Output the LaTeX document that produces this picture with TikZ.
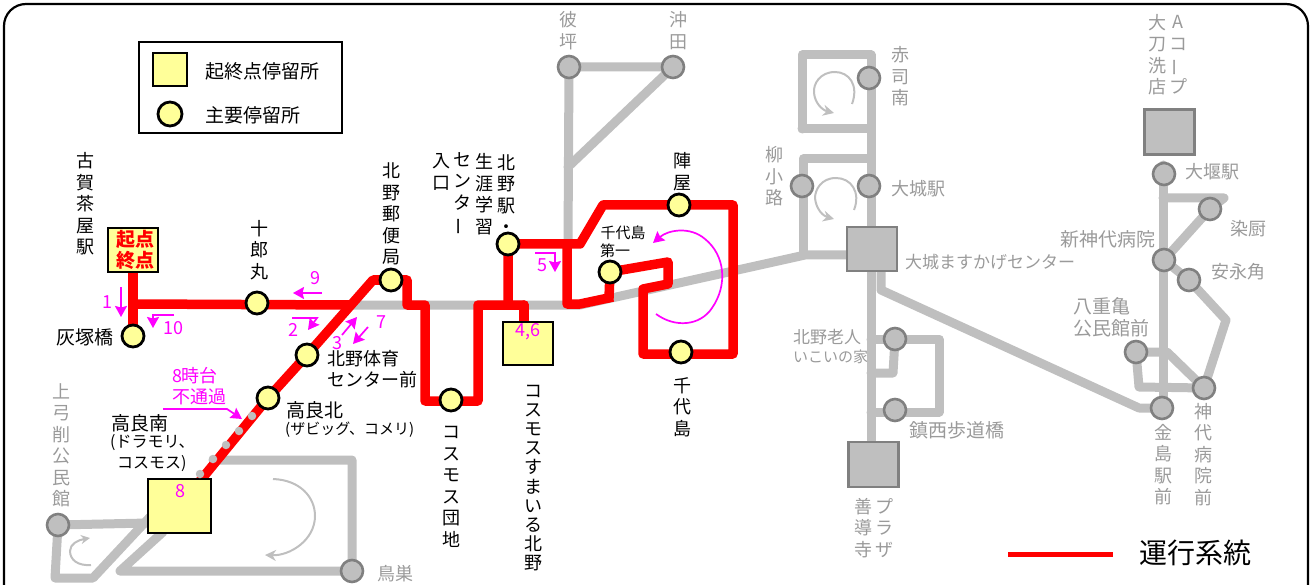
\documentclass[tikz,border=0pt]{standalone}
\usepackage{fontspec}
\usepackage{graphicx}
\setmainfont{Noto Sans CJK JP}
\usetikzlibrary{arrows.meta,backgrounds}
\newcommand\fs[2]{\fontsize{#1}{#2}\selectfont}
\newcommand\vbar{\rotatebox[origin=c]{90}{ー}}
\definecolor{stopyel}{HTML}{FFFF99}
\definecolor{routegrey}{HTML}{BFBFBF}
\definecolor{edgegrey}{HTML}{808080}
\definecolor{labgrey}{HTML}{9A9A9A}
\definecolor{routered}{HTML}{FF0000}
\definecolor{mag}{HTML}{FF00FF}
\tikzset{
  busstop/.style={circle,draw=black,line width=2.8pt,fill=stopyel,minimum size=22pt,inner sep=0pt},
  greystop/.style={circle,draw=edgegrey,line width=2.6pt,fill=routegrey,minimum size=22pt,inner sep=0pt},
  termsq/.style={rectangle,draw=black,line width=2.4pt,fill=stopyel,inner sep=0pt},
  greysq/.style={rectangle,draw=edgegrey,line width=2.4pt,fill=routegrey,inner sep=0pt},
  lab/.style={inner sep=0pt,text=black,align=center,font=\fs{18}{21.5}},
  glab/.style={lab,text=labgrey},
  lleft/.style={anchor=west,align=left},
  redline/.style={draw=routered,line width=9.5pt,line join=round,line cap=round},
  greyline/.style={draw=routegrey,line width=9pt,line join=round,line cap=round},
  magarrow/.style={draw=mag,line width=1.7pt,-{Stealth[length=11pt,width=12pt,inset=1.5pt]}},
  greyarrow/.style={draw=routegrey,line width=2pt,-{Stealth[length=11pt,width=11pt]}},
  magtext/.style={inner sep=0pt,text=mag,font=\fs{18}{21}},
  dotmark/.style={circle,fill=routegrey,minimum size=8.5pt,inner sep=0pt}
}
\begin{document}
\begin{tikzpicture}[x=1pt,y=-1pt]
\useasboundingbox (0,0) rectangle (1311,585);
\draw[line width=2.2pt,rounded corners=22pt] (4,585) -- (4,4) -- (1308,4) -- (1308,585);
% legend
\node[rectangle,draw=black,line width=1.2pt,minimum width=203pt,minimum height=91pt,inner sep=0pt] (legendbox) at (240.5,87.5) {};
\node[termsq,minimum width=34pt,minimum height=33pt] (legsq) at (170,69.5) {};
\node[busstop,minimum size=24pt] (legcirc) at (170,114) {};
\node[lab,lleft,font=\fs{19}{22}] (legt1) at (205,71) {起終点停留所};
\node[lab,lleft,font=\fs{19}{22}] (legt2) at (205,115) {主要停留所};
% terminals
\node[termsq,minimum width=50pt,minimum height=44pt] (koga) at (133,250) {};
\node[termsq,minimum width=63pt,minimum height=54pt] (takara) at (179.5,506) {};
\node[termsq,minimum width=50pt,minimum height=43pt] (cosmosu) at (528,343.5) {};
\node[greysq,minimum width=50pt,minimum height=44pt] (masukage) at (872,249) {};
\node[greysq,minimum width=50pt,minimum height=45pt] (acoop) at (1169.5,132) {};
\node[greysq,minimum width=50pt,minimum height=45pt] (zendoji) at (873.5,464.5) {};
% red route stops
\node[busstop] (haizuka) at (133,336) {};
\node[busstop] (juro) at (257,303) {};
\node[busstop] (yubin) at (391,280) {};
\node[busstop] (taiiku) at (307,355) {};
\node[busstop] (takarakita) at (268,398) {};
\node[busstop] (cosmos) at (451,400) {};
\node[busstop] (kitanoeki) at (508,244) {};
\node[busstop] (jinya) at (679,205) {};
\node[busstop] (daiichi) at (610,272) {};
\node[busstop] (chiyo) at (681,352) {};
% grey stops
\node[greystop] (kabo) at (569,67) {};
\node[greystop] (okita) at (673,67) {};
\node[greystop] (shaku) at (869,78) {};
\node[greystop] (ojo) at (869,186) {};
\node[greystop] (yanagi) at (802,186) {};
\node[greystop] (oseki) at (1164,174) {};
\node[greystop] (somei) at (1210,209) {};
\node[greystop] (shinko) at (1164,260) {};
\node[greystop] (yasu) at (1189,280) {};
\node[greystop] (yae) at (1136,352) {};
\node[greystop] (kamishiro) at (1204,388) {};
\node[greystop] (kaneshima) at (1162,408) {};
\node[greystop] (rojin) at (895,339) {};
\node[greystop] (chinzei) at (895,410) {};
\node[greystop] (yuge) at (58,525) {};
\node[greystop] (tosu) at (352,571) {};
% bend coordinates
\coordinate (g1) at (350,305);
\coordinate (g2) at (580,305);
\coordinate (g3) at (805,255);
\coordinate (g3b) at (860,255);
\coordinate (g4) at (871,55);
\coordinate (g5) at (802,55);
\coordinate (g6) at (802,129);
\coordinate (g7) at (871,129);
\coordinate (g8) at (871,159);
\coordinate (g9) at (803,159);
\coordinate (g10) at (803,255);
\coordinate (g11) at (881,271);
\coordinate (g12) at (881,290);
\coordinate (g13) at (1139,408);
\coordinate (g14) at (1163,198);
\coordinate (g15) at (1224,198);
\coordinate (g16) at (1226,320);
\coordinate (g17) at (1167,352);
\coordinate (g18) at (1139,387);
\coordinate (g19) at (871,339);
\coordinate (g20) at (939,339);
\coordinate (g21) at (939,412);
\coordinate (g22) at (871,412);
\coordinate (g23) at (893,373);
\coordinate (g24) at (871,373);
\coordinate (g25) at (55,578);
\coordinate (g26) at (93,578);
\coordinate (g27) at (150,517);
\coordinate (g28) at (148,523);
\coordinate (g29) at (163,532);
\coordinate (g30) at (120,571);
\coordinate (g31) at (352,460);
\coordinate (g32) at (213,460);
\coordinate (g33) at (568,167);
\coordinate (g34) at (568,244);
\coordinate (g35) at (871,445);
\coordinate (g36) at (1163,165);
\coordinate (g37) at (1163,408);
\coordinate (r1) at (524,305);
\coordinate (r2) at (524,325);
\begin{scope}[on background layer]
% grey network
\draw[greyline] (g1) -- (g2) -- (g3) -- (g3b);
\draw[greyline] (kabo.center) -- (g34);
\draw[greyline] (kabo.center) -- (okita.center) -- (g33);
\draw[greyline] (g6) -- (g5) -- (g4) -- (g35);
\draw[greyline] (g6) -- (g7);
\draw[greyline] (g8) -- (g9) -- (g10);
\draw[greyline] (g11) -- (g12) -- (g13) -- (kaneshima.center);
\draw[greyline] (g36) -- (g37);
\draw[greyline] (g14) -- (g15) -- (somei.center) -- (shinko.center) -- (yasu.center) -- (g16) -- (kamishiro.center);
\draw[greyline] (yae.center) -- (g17) -- (kamishiro.center) -- (g18) -- (yae.center);
\draw[greyline] (g19) -- (rojin.center) -- (g20) -- (g21) -- (g22);
\draw[greyline] (rojin.center) -- (g23) -- (g24);
\draw[greyline] (g27) -- (g26) -- (g25) -- (yuge.center) -- (g28);
\draw[greyline] (g29) -- (g30) -- (tosu.center) -- (g31) -- (g32);
% red network
\draw[redline] (koga.center) -- (haizuka.center);
\draw[redline] (133,304) -- (g1);
\draw[redline] (takara.center) -- (takarakita.center) -- (taiiku.center) -- (373,280) -- (yubin.center) -- (407,280) -- (407,305) -- (425,305) -- (425,401) -- (478,401) -- (478,305) -- (r1);
\draw[redline] (r1) -- (r2);
\draw[redline] (508,305) -- (kitanoeki.center) -- (580,244) -- (603,205) -- (733,205) -- (733,354) -- (643,354) -- (643,289) -- (668,284) -- (668,262) -- (daiichi.center) -- (609,298);
\draw[redline,line cap=butt] (567,244) -- (567,304) -- (580,304) -- (613,297);
\end{scope}
% dots on the skipped section
\node[dotmark] (d1) at (252,416) {};
\node[dotmark] (d2) at (239,431) {};
\node[dotmark] (d3) at (226,445) {};
\node[dotmark] (d4) at (213,459) {};
\node[dotmark] (d5) at (200,474) {};
% black labels
\node[lab] (tkoga) at (85,204) {古\\賀\\茶\\屋\\駅};
\node[text=routered,inner sep=0pt,align=center,font=\bfseries\fs{19}{21}] (tkiten) at (135.5,250) {起点\\終点};
\node[lab] (tjuro) at (259,250) {十\\郎\\丸};
\node[lab] (tyubin) at (391,214) {北\\野\\郵\\便\\局};
\node[lab,font=\fs{19}{22}] (thaizuka) at (85,337) {灰塚橋};
\node[lab,lleft] (ttaiiku) at (327,369) {北野体育\\センター前};
\node[lab,lleft,font=\fs{19}{22}] (ttkita) at (286,410) {高良北};
\node[lab,lleft,font=\fs{15}{18}] (ttkita2) at (285,430) {(ザビッグ、コメリ)};
\node[lab,lleft,font=\fs{19}{22}] (ttminami) at (111,423) {高良南};
\node[lab,lleft,font=\fs{16}{18}] (ttm2) at (110,443) {(ドラモリ、};
\node[lab,lleft,font=\fs{16}{18}] (ttm3) at (117,464) {コスモス)};
\node[lab] (tiri) at (441,172) {入\\口};
\node[lab] (tsen) at (462,194) {セ\\ン\\タ\\\vbar};
\node[lab] (tsho) at (484,194) {生\\涯\\学\\習};
\node[lab] (tkit) at (506,194) {北\\野\\駅\\・};
\node[lab] (tjin) at (682,171.5) {陣\\屋};
\node[lab,font=\fs{15}{18}] (tdai1) at (623,233) {千代島};
\node[lab,lleft,font=\fs{15}{18}] (tdai2) at (600,251) {第一};
\node[lab] (tchi) at (682,407) {千\\代\\島};
\node[lab] (tcos) at (451,487) {コ\\ス\\モ\\ス\\団\\地};
\node[lab,font=\fs{18}{19.1}] (tcoss) at (533,478) {コ\\ス\\モ\\ス\\す\\ま\\い\\る\\北\\野};
% grey labels
\node[glab] (tyuge) at (61,445.5) {上\\弓\\削\\公\\民\\館};
\node[glab] (ttosu) at (395,574) {鳥巣};
\node[glab] (tkabo) at (568,30.5) {彼\\坪};
\node[glab] (tokita) at (678,30.5) {沖\\田};
\node[glab] (tshaku) at (900,76.5) {赤\\司\\南};
\node[glab] (tyana) at (774,176.5) {柳\\小\\路};
\node[glab,lleft] (tojo) at (891,189) {大城駅};
\node[glab,lleft,font=\fs{17}{20}] (tmasu) at (905,262) {大城ますかげセンター};
\node[glab] (ttachi) at (1157,54.5) {大\\刀\\洗\\店};
\node[glab] (tacoop) at (1178,54.5) {A\\コ\\\vbar\\プ};
\node[glab,lleft] (toseki) at (1185,172) {大堰駅};
\node[glab] (tsomei) at (1248,229) {染厨};
\node[glab,lleft,font=\fs{19}{22}] (tshin) at (1060,239) {新神代病院};
\node[glab,lleft] (tyasu) at (1211,272) {安永角};
\node[glab,lleft,font=\fs{19}{22}] (tyae) at (1073,317) {八重亀\\公民館前};
\node[glab,lleft,font=\fs{17}{20}] (trojin) at (793,337) {北野老人};
\node[glab,lleft,font=\fs{15}{18}] (trojin2) at (793,357) {いこいの家};
\node[glab,lleft,font=\fs{19}{22}] (tchin) at (909,430) {鎮西歩道橋};
\node[glab] (tzen) at (863,528) {善\\導\\寺};
\node[glab] (tpla) at (884,528) {プ\\ラ\\ザ};
\node[glab] (tkane) at (1163,464.5) {金\\島\\駅\\前};
\node[glab] (tkami) at (1203,454.5) {神\\代\\病\\院\\前};
% legend line
\coordinate (leg1) at (1008,554);
\coordinate (leg2) at (1113,554);
\draw[draw=routered,line width=5pt] (leg1) -- (leg2);
\node[inner sep=0pt,anchor=west,font=\fs{28}{32}] (tunko) at (1139,553) {運行系統};
% circular grey arrows
\draw[greyarrow] (852,104) .. controls (859,85) and (849,72) .. (835,72) .. controls (820,72) and (813,84) .. (814,93) .. controls (815,103) and (822,110) .. (834,113);
\draw[greyarrow] (854,210) .. controls (861,192) and (851,178) .. (836,178) .. controls (821,178) and (815,190) .. (815,198) .. controls (816,209) and (823,216) .. (834,219);
\draw[greyarrow] (273,479) .. controls (300,480) and (315,497) .. (315,516) .. controls (315,540) and (290,556) .. (265,555);
\draw[greyarrow,-{Stealth[length=9pt,width=9pt]}] (91,565) .. controls (78,566) and (70,560) .. (70,551) .. controls (70,544) and (78,540) .. (90,538);
% magenta annotations
\draw[magarrow] (121,287) -- (121,317);
\node[magtext] (n1) at (107,302) {1};
\draw[magarrow] (174,315) -- (153,315) -- (153,328);
\node[magtext] (n10) at (173,328) {10};
\draw[magarrow] (322,293) -- (293,293);
\node[magtext] (n9) at (315,278) {9};
\draw[magarrow] (292,318) -- (317,318) -- (308,330);
\node[magtext] (n2) at (293,330) {2};
\draw[magarrow] (342,335) -- (357,317);
\node[magtext] (n3) at (337,343) {3};
\draw[magarrow] (368,327) -- (353,344);
\node[magtext] (n7) at (381,322) {7};
\node[magtext] (tno1) at (195,376) {8時台};
\node[magtext] (tno2) at (199,397) {不通過};
\draw[magarrow] (163,409) -- (227,409) -- (242,419);
\node[magtext] (n8) at (180,491) {8};
\draw[magarrow] (535,253) -- (555,253) -- (555,272);
\node[magtext] (n5) at (542,265) {5};
\node[magtext] (n46) at (528,332) {4,6};
\draw[magarrow] (656,314) .. controls (675,328) and (700,326) .. (712,308) .. controls (728,285) and (725,255) .. (705,239) .. controls (690,226) and (668,230) .. (653,243);
\end{tikzpicture}
\end{document}
